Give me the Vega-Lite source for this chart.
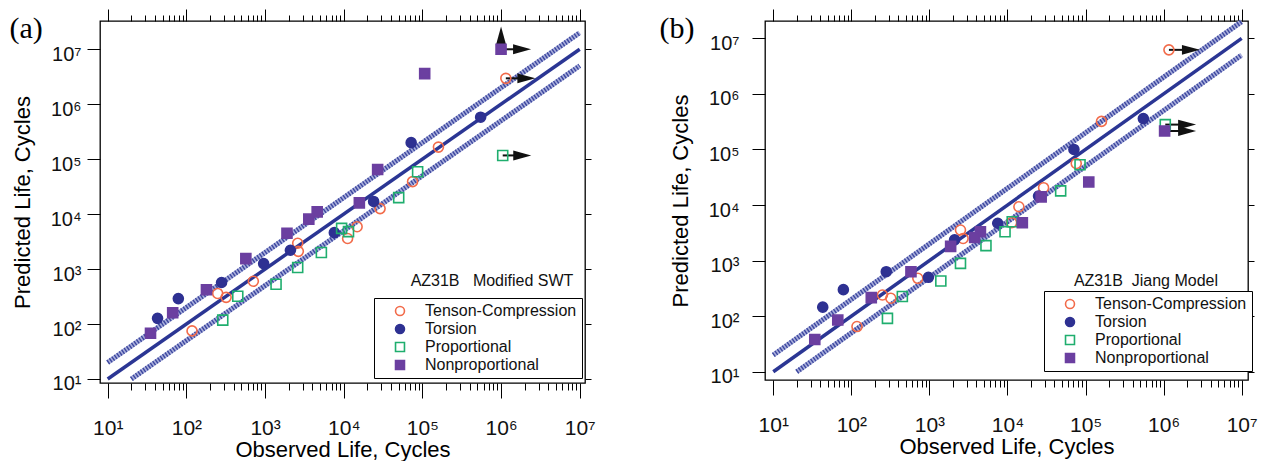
{
  "$schema": "https://vega.github.io/schema/vega-lite/v6.json",
  "background": "white",
  "padding": {"left": 8, "top": 7, "right": 0, "bottom": 0},
  "bounds": "flush",
  "spacing": 180,
  "config": {
    "view": {"stroke": "#000", "strokeWidth": 1.3},
    "font": "Liberation Sans",
    "axis": {"grid": false, "domain": false, "tickColor": "#000", "tickWidth": 1, "labelFont": "Liberation Sans", "labelFontSize": 20, "labelColor": "#111", "titleFont": "Liberation Sans", "titleFontSize": 22, "titleFontWeight": "normal", "titleColor": "#000", "labelOverlap": false, "labelFlush": false, "labelBound": false}
  },
  "datasets": {
    "points": [
      {"panel": "a", "series": "Tenson-Compression", "observed": 1150000, "predicted": 2960000},
      {"panel": "a", "series": "Tenson-Compression", "observed": 160000, "predicted": 166000},
      {"panel": "a", "series": "Tenson-Compression", "observed": 75000, "predicted": 39000},
      {"panel": "a", "series": "Tenson-Compression", "observed": 29000, "predicted": 12600},
      {"panel": "a", "series": "Tenson-Compression", "observed": 14800, "predicted": 5900},
      {"panel": "a", "series": "Tenson-Compression", "observed": 11200, "predicted": 3600},
      {"panel": "a", "series": "Tenson-Compression", "observed": 2600, "predicted": 2950},
      {"panel": "a", "series": "Tenson-Compression", "observed": 2650, "predicted": 2100},
      {"panel": "a", "series": "Tenson-Compression", "observed": 710, "predicted": 600},
      {"panel": "a", "series": "Tenson-Compression", "observed": 250, "predicted": 360},
      {"panel": "a", "series": "Tenson-Compression", "observed": 320, "predicted": 306},
      {"panel": "a", "series": "Tenson-Compression", "observed": 118, "predicted": 75},
      {"panel": "a", "series": "Torsion", "observed": 550000, "predicted": 580000},
      {"panel": "a", "series": "Torsion", "observed": 72000, "predicted": 200000},
      {"panel": "a", "series": "Torsion", "observed": 24000, "predicted": 17000},
      {"panel": "a", "series": "Torsion", "observed": 7600, "predicted": 4600},
      {"panel": "a", "series": "Torsion", "observed": 2100, "predicted": 2200},
      {"panel": "a", "series": "Torsion", "observed": 960, "predicted": 1260},
      {"panel": "a", "series": "Torsion", "observed": 280, "predicted": 570},
      {"panel": "a", "series": "Torsion", "observed": 79, "predicted": 290},
      {"panel": "a", "series": "Torsion", "observed": 43, "predicted": 127},
      {"panel": "a", "series": "Proportional", "observed": 1050000, "predicted": 117000},
      {"panel": "a", "series": "Proportional", "observed": 87000, "predicted": 59000},
      {"panel": "a", "series": "Proportional", "observed": 50000, "predicted": 20000},
      {"panel": "a", "series": "Proportional", "observed": 9400, "predicted": 5500},
      {"panel": "a", "series": "Proportional", "observed": 11500, "predicted": 4800},
      {"panel": "a", "series": "Proportional", "observed": 5200, "predicted": 2000},
      {"panel": "a", "series": "Proportional", "observed": 2600, "predicted": 1070},
      {"panel": "a", "series": "Proportional", "observed": 1380, "predicted": 530},
      {"panel": "a", "series": "Proportional", "observed": 450, "predicted": 320},
      {"panel": "a", "series": "Proportional", "observed": 290, "predicted": 118},
      {"panel": "a", "series": "Nonproportional", "observed": 1000000, "predicted": 10000000},
      {"panel": "a", "series": "Nonproportional", "observed": 107000, "predicted": 3600000},
      {"panel": "a", "series": "Nonproportional", "observed": 27000, "predicted": 65000},
      {"panel": "a", "series": "Nonproportional", "observed": 15800, "predicted": 16000},
      {"panel": "a", "series": "Nonproportional", "observed": 4600, "predicted": 11000},
      {"panel": "a", "series": "Nonproportional", "observed": 3600, "predicted": 8100},
      {"panel": "a", "series": "Nonproportional", "observed": 1900, "predicted": 4500},
      {"panel": "a", "series": "Nonproportional", "observed": 570, "predicted": 1550},
      {"panel": "a", "series": "Nonproportional", "observed": 180, "predicted": 420},
      {"panel": "a", "series": "Nonproportional", "observed": 67, "predicted": 160},
      {"panel": "a", "series": "Nonproportional", "observed": 35, "predicted": 68},
      {"panel": "b", "series": "Tenson-Compression", "observed": 1170000, "predicted": 6200000},
      {"panel": "b", "series": "Tenson-Compression", "observed": 160000, "predicted": 320000},
      {"panel": "b", "series": "Tenson-Compression", "observed": 76000, "predicted": 56000},
      {"panel": "b", "series": "Tenson-Compression", "observed": 29000, "predicted": 20500},
      {"panel": "b", "series": "Tenson-Compression", "observed": 14000, "predicted": 9300},
      {"panel": "b", "series": "Tenson-Compression", "observed": 11300, "predicted": 4800},
      {"panel": "b", "series": "Tenson-Compression", "observed": 2500, "predicted": 3550},
      {"panel": "b", "series": "Tenson-Compression", "observed": 2700, "predicted": 2500},
      {"panel": "b", "series": "Tenson-Compression", "observed": 710, "predicted": 480},
      {"panel": "b", "series": "Tenson-Compression", "observed": 250, "predicted": 240},
      {"panel": "b", "series": "Tenson-Compression", "observed": 320, "predicted": 210},
      {"panel": "b", "series": "Tenson-Compression", "observed": 118, "predicted": 65},
      {"panel": "b", "series": "Torsion", "observed": 550000, "predicted": 360000},
      {"panel": "b", "series": "Torsion", "observed": 71000, "predicted": 100000},
      {"panel": "b", "series": "Torsion", "observed": 25000, "predicted": 14500},
      {"panel": "b", "series": "Torsion", "observed": 7500, "predicted": 4700},
      {"panel": "b", "series": "Torsion", "observed": 2100, "predicted": 2360},
      {"panel": "b", "series": "Torsion", "observed": 970, "predicted": 500},
      {"panel": "b", "series": "Torsion", "observed": 280, "predicted": 630},
      {"panel": "b", "series": "Torsion", "observed": 79, "predicted": 300},
      {"panel": "b", "series": "Torsion", "observed": 43, "predicted": 145},
      {"panel": "b", "series": "Proportional", "observed": 1050000, "predicted": 280000},
      {"panel": "b", "series": "Proportional", "observed": 85000, "predicted": 53000},
      {"panel": "b", "series": "Proportional", "observed": 48000, "predicted": 18000},
      {"panel": "b", "series": "Proportional", "observed": 11500, "predicted": 5000},
      {"panel": "b", "series": "Proportional", "observed": 9300, "predicted": 3300},
      {"panel": "b", "series": "Proportional", "observed": 5300, "predicted": 1860},
      {"panel": "b", "series": "Proportional", "observed": 2500, "predicted": 890},
      {"panel": "b", "series": "Proportional", "observed": 1400, "predicted": 430},
      {"panel": "b", "series": "Proportional", "observed": 450, "predicted": 225},
      {"panel": "b", "series": "Proportional", "observed": 290, "predicted": 91},
      {"panel": "b", "series": "Nonproportional", "observed": 1030000, "predicted": 215000},
      {"panel": "b", "series": "Nonproportional", "observed": 110000, "predicted": 26000},
      {"panel": "b", "series": "Nonproportional", "observed": 27000, "predicted": 14000},
      {"panel": "b", "series": "Nonproportional", "observed": 15500, "predicted": 4800},
      {"panel": "b", "series": "Nonproportional", "observed": 4500, "predicted": 3300},
      {"panel": "b", "series": "Nonproportional", "observed": 3800, "predicted": 2600},
      {"panel": "b", "series": "Nonproportional", "observed": 1870, "predicted": 1800},
      {"panel": "b", "series": "Nonproportional", "observed": 580, "predicted": 630},
      {"panel": "b", "series": "Nonproportional", "observed": 180, "predicted": 215},
      {"panel": "b", "series": "Nonproportional", "observed": 67, "predicted": 85},
      {"panel": "b", "series": "Nonproportional", "observed": 34, "predicted": 38}
    ],
    "refs": [
      {"band": "mid", "x": 10, "y": 10},
      {"band": "mid", "x": 10000000, "y": 10000000},
      {"band": "upper", "x": 10, "y": 20},
      {"band": "upper", "x": 10000000, "y": 20000000},
      {"band": "lower", "x": 20, "y": 10},
      {"band": "lower", "x": 10000000, "y": 5000000}
    ],
    "arrows": [
      {"panel": "a", "dir": "right", "x": 1000000, "y": 10000000, "x2": 1850000, "y2": 10000000},
      {"panel": "a", "dir": "up", "x": 1000000, "y": 10000000, "x2": 1000000, "y2": 17800000},
      {"panel": "a", "dir": "right", "x": 1150000, "y": 2960000, "x2": 2100000, "y2": 2960000},
      {"panel": "a", "dir": "right", "x": 1050000, "y": 117000, "x2": 1860000, "y2": 117000},
      {"panel": "b", "dir": "right", "x": 1170000, "y": 6200000, "x2": 2240000, "y2": 6200000},
      {"panel": "b", "dir": "right", "x": 1050000, "y": 280000, "x2": 2000000, "y2": 280000},
      {"panel": "b", "dir": "right", "x": 1030000, "y": 215000, "x2": 2000000, "y2": 215000}
    ],
    "notes": [
      {"panel": "a", "label": "AZ31B\u00a0\u00a0\u00a0Modified SWT", "x": 767000, "y": 612},
      {"panel": "b", "label": "AZ31B\u00a0\u00a0Jiang Model", "x": 594000, "y": 435}
    ]
  },
  "resolve": {"scale": {"shape": "independent", "stroke": "independent", "fill": "independent"}, "legend": {"shape": "independent", "stroke": "independent", "fill": "independent"}},
  "hconcat": [
    {
      "width": 485,
      "height": 362,
      "resolve": {"axis": {"x": "independent", "y": "independent"}},
      "layer": [
        {
          "data": {"name": "refs"},
          "transform": [{"filter": "datum.band != 'mid'"}],
          "mark": {"type": "line", "stroke": "#a9aedb", "strokeWidth": 5},
          "encoding": {
            "x": {"field": "x", "type": "quantitative", "scale": {"type": "log", "domain": [7.98, 11670000], "nice": false},
                  "axis": {"orient": "bottom", "title": "Observed Life, Cycles", "values": [10,20,30,40,50,60,70,80,90,100,200,300,400,500,600,700,800,900,1000,2000,3000,4000,5000,6000,7000,8000,9000,10000,20000,30000,40000,50000,60000,70000,80000,90000,100000,200000,300000,400000,500000,600000,700000,800000,900000,1000000,2000000,3000000,4000000,5000000,6000000,7000000,8000000,9000000,10000000],
                           "tickSize": {"condition": {"test": "abs(log(datum.value)/LN10 - round(log(datum.value)/LN10)) < 0.001", "value": 15}, "value": 7},
                           "labelExpr": "abs(log(datum.value)/LN10 - round(log(datum.value)/LN10)) < 0.001 ? '10' + ['⁰','¹','²','³','⁴','⁵','⁶','⁷','⁸'][round(log(datum.value)/LN10)] : ''",
                           "labelFontSize": 21, "labelPadding": 19, "titlePadding": 1}},
            "y": {"field": "y", "type": "quantitative", "scale": {"type": "log", "domain": [8.45, 32700000], "nice": false},
                  "axis": {"orient": "left", "title": "Predicted Life, Cycles", "values": [10,100,1000,10000,100000,1000000,10000000], "tickSize": 13,
                           "labelExpr": "'10' + ['⁰','¹','²','³','⁴','⁵','⁶','⁷','⁸'][round(log(datum.value)/LN10)]",
                           "labelPadding": 6, "labelOffset": 5, "titlePadding": 16}},
            "detail": {"field": "band"}
          }
        },
        {
          "data": {"name": "refs"},
          "transform": [{"filter": "datum.band != 'mid'"}],
          "mark": {"type": "line", "stroke": "#3c479f", "strokeWidth": 5, "strokeDash": [1.4, 1.6]},
          "encoding": {
            "x": {"field": "x", "type": "quantitative", "scale": {"type": "log", "domain": [7.98, 11670000], "nice": false},
                  "axis": {"orient": "top", "title": "(a)", "titleX": -91, "titleY": 16, "titleAngle": 0, "titleAlign": "left", "titleBaseline": "alphabetic", "titleFont": "Liberation Serif", "titleFontSize": 30, "titleFontWeight": "normal", "titleColor": "#000", "labels": false, "values": [10,20,30,40,50,60,70,80,90,100,200,300,400,500,600,700,800,900,1000,2000,3000,4000,5000,6000,7000,8000,9000,10000,20000,30000,40000,50000,60000,70000,80000,90000,100000,200000,300000,400000,500000,600000,700000,800000,900000,1000000,2000000,3000000,4000000,5000000,6000000,7000000,8000000,9000000,10000000],
                           "tickSize": {"condition": {"test": "abs(log(datum.value)/LN10 - round(log(datum.value)/LN10)) < 0.001", "value": 12}, "value": 6}}},
            "y": {"field": "y", "type": "quantitative", "scale": {"type": "log", "domain": [8.45, 32700000], "nice": false},
                  "axis": {"orient": "right", "title": null, "labels": false, "values": [10,100,1000,10000,100000,1000000,10000000], "tickSize": 6}},
            "detail": {"field": "band"}
          }
        },
        {
          "data": {"name": "refs"},
          "transform": [{"filter": "datum.band == 'mid'"}],
          "mark": {"type": "line", "stroke": "#2b3694", "strokeWidth": 3.5},
          "encoding": {
            "x": {"field": "x", "type": "quantitative", "scale": {"type": "log", "domain": [7.98, 11670000], "nice": false}, "axis": null},
            "y": {"field": "y", "type": "quantitative", "scale": {"type": "log", "domain": [8.45, 32700000], "nice": false}, "axis": null}
          }
        },
        {
          "data": {"name": "arrows"},
          "transform": [{"filter": "datum.panel == 'a'"}],
          "mark": {"type": "rule", "color": "#111", "strokeWidth": 2},
          "encoding": {
            "x": {"field": "x", "type": "quantitative", "scale": {"type": "log", "domain": [7.98, 11670000], "nice": false}, "axis": null},
            "x2": {"field": "x2"},
            "y": {"field": "y", "type": "quantitative", "scale": {"type": "log", "domain": [8.45, 32700000], "nice": false}, "axis": null},
            "y2": {"field": "y2"}
          }
        },
        {
          "data": {"name": "arrows"},
          "transform": [{"filter": "datum.panel == 'a' && datum.dir == 'right'"}],
          "mark": {"type": "point", "shape": "M-1,-0.55L1,0L-1,0.55Z", "size": 324, "filled": true, "color": "#111", "opacity": 1},
          "encoding": {
            "x": {"field": "x2", "type": "quantitative", "scale": {"type": "log", "domain": [7.98, 11670000], "nice": false}, "axis": null},
            "y": {"field": "y2", "type": "quantitative", "scale": {"type": "log", "domain": [8.45, 32700000], "nice": false}, "axis": null}
          }
        },
        {
          "data": {"name": "arrows"},
          "transform": [{"filter": "datum.panel == 'a' && datum.dir == 'up'"}],
          "mark": {"type": "point", "shape": "M-0.55,1L0,-1L0.55,1Z", "size": 324, "filled": true, "color": "#111", "opacity": 1},
          "encoding": {
            "x": {"field": "x2", "type": "quantitative", "scale": {"type": "log", "domain": [7.98, 11670000], "nice": false}, "axis": null},
            "y": {"field": "y2", "type": "quantitative", "scale": {"type": "log", "domain": [8.45, 32700000], "nice": false}, "axis": null}
          }
        },
        {
          "data": {"name": "notes"},
          "transform": [{"filter": "datum.panel == 'a'"}],
          "mark": {"type": "text", "font": "Liberation Sans", "fontSize": 16, "color": "#111", "align": "center", "baseline": "middle"},
          "encoding": {
            "x": {"field": "x", "type": "quantitative", "scale": {"type": "log", "domain": [7.98, 11670000], "nice": false}, "axis": null},
            "y": {"field": "y", "type": "quantitative", "scale": {"type": "log", "domain": [8.45, 32700000], "nice": false}, "axis": null},
            "text": {"field": "label"}
          }
        },
        {
          "data": {"name": "points"},
          "transform": [{"filter": "datum.panel == 'a'"}],
          "mark": {"type": "point", "size": 100, "strokeWidth": 1.6, "opacity": 1},
          "encoding": {
            "x": {"field": "observed", "type": "quantitative", "scale": {"type": "log", "domain": [7.98, 11670000], "nice": false}, "axis": null},
            "y": {"field": "predicted", "type": "quantitative", "scale": {"type": "log", "domain": [8.45, 32700000], "nice": false}, "axis": null},
            "shape": {"field": "series", "type": "nominal", "scale": {"domain": ["Tenson-Compression", "Torsion", "Proportional", "Nonproportional"], "range": ["circle", "circle", "square", "square"]},
                      "legend": {"orient": "none", "legendX": 274, "legendY": 277, "title": null, "strokeColor": "#000", "fillColor": "white", "padding": 5, "symbolOffset": 13, "labelOffset": 17, "rowPadding": 2, "labelFontSize": 16, "labelFont": "Liberation Sans", "labelColor": "#111", "symbolSize": 80, "symbolStrokeWidth": 1.6, "labelLimit": 300}},
            "stroke": {"field": "series", "type": "nominal", "scale": {"domain": ["Tenson-Compression", "Torsion", "Proportional", "Nonproportional"], "range": ["#f26b4a", "#2e3192", "#1fae6e", "#6b3fa0"]},
                      "legend": {"orient": "none", "legendX": 274, "legendY": 277, "title": null, "strokeColor": "#000", "fillColor": "white", "padding": 5, "symbolOffset": 13, "labelOffset": 17, "rowPadding": 2, "labelFontSize": 16, "labelFont": "Liberation Sans", "labelColor": "#111", "symbolSize": 80, "symbolStrokeWidth": 1.6, "labelLimit": 300}},
            "fill": {"field": "series", "type": "nominal", "scale": {"domain": ["Tenson-Compression", "Torsion", "Proportional", "Nonproportional"], "range": ["transparent", "#2e3192", "transparent", "#6b3fa0"]},
                      "legend": {"orient": "none", "legendX": 274, "legendY": 277, "title": null, "strokeColor": "#000", "fillColor": "white", "padding": 5, "symbolOffset": 13, "labelOffset": 17, "rowPadding": 2, "labelFontSize": 16, "labelFont": "Liberation Sans", "labelColor": "#111", "symbolSize": 80, "symbolStrokeWidth": 1.6, "labelLimit": 300}}
          }
        }
      ]
    },
    {
      "width": 483,
      "height": 359,
      "resolve": {"axis": {"x": "independent", "y": "independent"}},
      "layer": [
        {
          "data": {"name": "refs"},
          "transform": [{"filter": "datum.band != 'mid'"}],
          "mark": {"type": "line", "stroke": "#a9aedb", "strokeWidth": 5},
          "encoding": {
            "x": {"field": "x", "type": "quantitative", "scale": {"type": "log", "domain": [7.83, 12050000], "nice": false},
                  "axis": {"orient": "bottom", "title": "Observed Life, Cycles", "values": [10,20,30,40,50,60,70,80,90,100,200,300,400,500,600,700,800,900,1000,2000,3000,4000,5000,6000,7000,8000,9000,10000,20000,30000,40000,50000,60000,70000,80000,90000,100000,200000,300000,400000,500000,600000,700000,800000,900000,1000000,2000000,3000000,4000000,5000000,6000000,7000000,8000000,9000000,10000000],
                           "tickSize": {"condition": {"test": "abs(log(datum.value)/LN10 - round(log(datum.value)/LN10)) < 0.001", "value": 15}, "value": 7},
                           "labelExpr": "abs(log(datum.value)/LN10 - round(log(datum.value)/LN10)) < 0.001 ? '10' + ['⁰','¹','²','³','⁴','⁵','⁶','⁷','⁸'][round(log(datum.value)/LN10)] : ''",
                           "labelFontSize": 21, "labelPadding": 19, "titlePadding": 1}},
            "y": {"field": "y", "type": "quantitative", "scale": {"type": "log", "domain": [7.09, 20500000], "nice": false},
                  "axis": {"orient": "left", "title": "Predicted Life, Cycles", "values": [10,100,1000,10000,100000,1000000,10000000], "tickSize": 13,
                           "labelExpr": "'10' + ['⁰','¹','²','³','⁴','⁵','⁶','⁷','⁸'][round(log(datum.value)/LN10)]",
                           "labelPadding": 13, "labelOffset": 5, "titlePadding": 16}},
            "detail": {"field": "band"}
          }
        },
        {
          "data": {"name": "refs"},
          "transform": [{"filter": "datum.band != 'mid'"}],
          "mark": {"type": "line", "stroke": "#3c479f", "strokeWidth": 5, "strokeDash": [1.4, 1.6]},
          "encoding": {
            "x": {"field": "x", "type": "quantitative", "scale": {"type": "log", "domain": [7.83, 12050000], "nice": false},
                  "axis": {"orient": "top", "title": "(b)", "titleX": -106, "titleY": 16, "titleAngle": 0, "titleAlign": "left", "titleBaseline": "alphabetic", "titleFont": "Liberation Serif", "titleFontSize": 30, "titleFontWeight": "normal", "titleColor": "#000", "labels": false, "values": [10,20,30,40,50,60,70,80,90,100,200,300,400,500,600,700,800,900,1000,2000,3000,4000,5000,6000,7000,8000,9000,10000,20000,30000,40000,50000,60000,70000,80000,90000,100000,200000,300000,400000,500000,600000,700000,800000,900000,1000000,2000000,3000000,4000000,5000000,6000000,7000000,8000000,9000000,10000000],
                           "tickSize": {"condition": {"test": "abs(log(datum.value)/LN10 - round(log(datum.value)/LN10)) < 0.001", "value": 12}, "value": 6}}},
            "y": {"field": "y", "type": "quantitative", "scale": {"type": "log", "domain": [7.09, 20500000], "nice": false},
                  "axis": {"orient": "right", "title": null, "labels": false, "values": [10,100,1000,10000,100000,1000000,10000000], "tickSize": 6}},
            "detail": {"field": "band"}
          }
        },
        {
          "data": {"name": "refs"},
          "transform": [{"filter": "datum.band == 'mid'"}],
          "mark": {"type": "line", "stroke": "#2b3694", "strokeWidth": 3.5},
          "encoding": {
            "x": {"field": "x", "type": "quantitative", "scale": {"type": "log", "domain": [7.83, 12050000], "nice": false}, "axis": null},
            "y": {"field": "y", "type": "quantitative", "scale": {"type": "log", "domain": [7.09, 20500000], "nice": false}, "axis": null}
          }
        },
        {
          "data": {"name": "arrows"},
          "transform": [{"filter": "datum.panel == 'b'"}],
          "mark": {"type": "rule", "color": "#111", "strokeWidth": 2},
          "encoding": {
            "x": {"field": "x", "type": "quantitative", "scale": {"type": "log", "domain": [7.83, 12050000], "nice": false}, "axis": null},
            "x2": {"field": "x2"},
            "y": {"field": "y", "type": "quantitative", "scale": {"type": "log", "domain": [7.09, 20500000], "nice": false}, "axis": null},
            "y2": {"field": "y2"}
          }
        },
        {
          "data": {"name": "arrows"},
          "transform": [{"filter": "datum.panel == 'b' && datum.dir == 'right'"}],
          "mark": {"type": "point", "shape": "M-1,-0.55L1,0L-1,0.55Z", "size": 324, "filled": true, "color": "#111", "opacity": 1},
          "encoding": {
            "x": {"field": "x2", "type": "quantitative", "scale": {"type": "log", "domain": [7.83, 12050000], "nice": false}, "axis": null},
            "y": {"field": "y2", "type": "quantitative", "scale": {"type": "log", "domain": [7.09, 20500000], "nice": false}, "axis": null}
          }
        },
        {
          "data": {"name": "notes"},
          "transform": [{"filter": "datum.panel == 'b'"}],
          "mark": {"type": "text", "font": "Liberation Sans", "fontSize": 16, "color": "#111", "align": "center", "baseline": "middle"},
          "encoding": {
            "x": {"field": "x", "type": "quantitative", "scale": {"type": "log", "domain": [7.83, 12050000], "nice": false}, "axis": null},
            "y": {"field": "y", "type": "quantitative", "scale": {"type": "log", "domain": [7.09, 20500000], "nice": false}, "axis": null},
            "text": {"field": "label"}
          }
        },
        {
          "data": {"name": "points"},
          "transform": [{"filter": "datum.panel == 'b'"}],
          "mark": {"type": "point", "size": 100, "strokeWidth": 1.6, "opacity": 1},
          "encoding": {
            "x": {"field": "observed", "type": "quantitative", "scale": {"type": "log", "domain": [7.83, 12050000], "nice": false}, "axis": null},
            "y": {"field": "predicted", "type": "quantitative", "scale": {"type": "log", "domain": [7.09, 20500000], "nice": false}, "axis": null},
            "shape": {"field": "series", "type": "nominal", "scale": {"domain": ["Tenson-Compression", "Torsion", "Proportional", "Nonproportional"], "range": ["circle", "circle", "square", "square"]},
                      "legend": {"orient": "none", "legendX": 279, "legendY": 270, "title": null, "strokeColor": "#000", "fillColor": "white", "padding": 5, "symbolOffset": 13, "labelOffset": 17, "rowPadding": 2, "labelFontSize": 16, "labelFont": "Liberation Sans", "labelColor": "#111", "symbolSize": 80, "symbolStrokeWidth": 1.6, "labelLimit": 300}},
            "stroke": {"field": "series", "type": "nominal", "scale": {"domain": ["Tenson-Compression", "Torsion", "Proportional", "Nonproportional"], "range": ["#f26b4a", "#2e3192", "#1fae6e", "#6b3fa0"]},
                      "legend": {"orient": "none", "legendX": 279, "legendY": 270, "title": null, "strokeColor": "#000", "fillColor": "white", "padding": 5, "symbolOffset": 13, "labelOffset": 17, "rowPadding": 2, "labelFontSize": 16, "labelFont": "Liberation Sans", "labelColor": "#111", "symbolSize": 80, "symbolStrokeWidth": 1.6, "labelLimit": 300}},
            "fill": {"field": "series", "type": "nominal", "scale": {"domain": ["Tenson-Compression", "Torsion", "Proportional", "Nonproportional"], "range": ["transparent", "#2e3192", "transparent", "#6b3fa0"]},
                      "legend": {"orient": "none", "legendX": 279, "legendY": 270, "title": null, "strokeColor": "#000", "fillColor": "white", "padding": 5, "symbolOffset": 13, "labelOffset": 17, "rowPadding": 2, "labelFontSize": 16, "labelFont": "Liberation Sans", "labelColor": "#111", "symbolSize": 80, "symbolStrokeWidth": 1.6, "labelLimit": 300}}
          }
        }
      ]
    }
  ]
}
